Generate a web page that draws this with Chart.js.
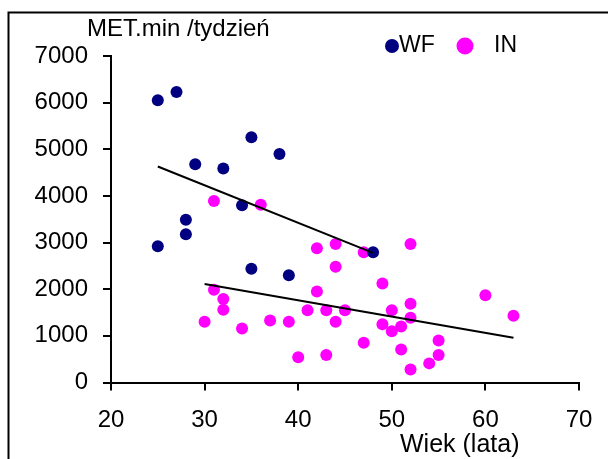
<!doctype html>
<html lang="pl">
<head>
  <meta charset="utf-8">
  <title>MET.min / tydzień</title>
  <style>
    html, body { margin: 0; padding: 0; background: #fff; }
    #wrap { width: 608px; height: 459px; }
  </style>
</head>
<body>
  <div id="wrap"><canvas id="myChart" width="608" height="459"></canvas></div>
  <script src="https://cdn.jsdelivr.net/npm/chart.js"></script>
  <script>
    // WF group
    const wfAge = [25, 27, 35, 38, 29, 32, 34, 28, 28, 25, 48, 35, 39];
    const wfMet = [6050, 6230, 5260, 4900, 4680, 4590, 3800, 3490, 3180, 2920, 2790, 2440, 2300];

    // IN group
    const inAge = [31, 36, 42, 44, 47, 52, 44, 49, 31, 42, 32, 32, 60, 52, 41, 43, 45, 50, 52, 63,
                   30, 37, 39, 44, 49, 51, 50, 34, 55, 47, 51, 40, 43, 55, 54, 52];
    const inMet = [3890, 3810, 2880, 2970, 2790, 2970, 2480, 2120, 1990, 1950, 1790, 1560, 1870, 1690,
                   1550, 1550, 1550, 1550, 1390, 1430, 1300, 1330, 1300, 1300, 1250, 1200, 1100, 1160,
                   900, 850, 710, 540, 590, 590, 410, 280];

    // trend lines (end points)
    const wfTrendAge = [25, 48];
    const wfTrendMet = [4630, 2780];
    const inTrendAge = [30, 63];
    const inTrendMet = [2110, 960];

    const xTicks = [20, 30, 40, 50, 60, 70];
    const yTicks = [0, 1000, 2000, 3000, 4000, 5000, 6000, 7000];

    const NAVY = '#000080';
    const MAGENTA = '#ff00ff';
    const FONT = '"Liberation Sans", Arial, sans-serif';

    const pts = (xs, ys) => xs.map((x, i) => ({ x: x, y: ys[i] }));

    const extras = {
      id: 'extras',
      beforeDraw(chart) {
        const ctx = chart.ctx;
        ctx.save();
        ctx.fillStyle = '#fff';
        ctx.fillRect(0, 0, chart.width, chart.height);
        ctx.restore();
      },
      afterDraw(chart) {
        const ctx = chart.ctx;
        ctx.save();
        // frame
        ctx.strokeStyle = '#000';
        ctx.lineWidth = 2;
        ctx.beginPath();
        ctx.moveTo(8.5, 460);
        ctx.lineTo(8.5, 12.5);
        ctx.lineTo(610, 12.5);
        ctx.stroke();

        ctx.fillStyle = '#000';
        ctx.textBaseline = 'alphabetic';
        ctx.textAlign = 'left';
        ctx.font = '24px ' + FONT;
        ctx.fillText('MET.min /tydzień', 87, 36);
        ctx.font = '25px ' + FONT;
        ctx.fillText('Wiek (lata)', 400, 452);

        // legend
        ctx.fillStyle = NAVY;
        ctx.beginPath(); ctx.arc(392, 46, 7, 0, Math.PI * 2); ctx.fill();
        ctx.fillStyle = MAGENTA;
        ctx.beginPath(); ctx.arc(465, 46, 8.5, 0, Math.PI * 2); ctx.fill();
        ctx.fillStyle = '#000';
        ctx.font = '23px ' + FONT;
        ctx.fillText('WF', 399, 52);
        ctx.fillText('IN', 494, 52);
        ctx.restore();
      }
    };

    const config = {
      type: 'scatter',
      data: {
        datasets: [
          {
            type: 'line', label: 'trend WF', data: pts(wfTrendAge, wfTrendMet),
            borderColor: '#000', borderWidth: 2, pointRadius: 0, fill: false, order: 0
          },
          {
            type: 'line', label: 'trend IN', data: pts(inTrendAge, inTrendMet),
            borderColor: '#000', borderWidth: 2, pointRadius: 0, fill: false, order: 0
          },
          {
            label: 'WF', data: pts(wfAge, wfMet),
            backgroundColor: NAVY, borderWidth: 0, pointRadius: 6, order: 1
          },
          {
            label: 'IN', data: pts(inAge, inMet),
            backgroundColor: MAGENTA, borderWidth: 0, pointRadius: 6, order: 2
          }
        ]
      },
      options: {
        responsive: false,
        animation: false,
        layout: { padding: { left: 0, right: 29, top: 56, bottom: 0 } },
        plugins: { legend: { display: false }, tooltip: { enabled: false } },
        scales: {
          x: {
            type: 'linear', min: 20, max: 70,
            afterBuildTicks: s => { s.ticks = xTicks.map(v => ({ value: v })); },
            afterFit: s => { s.height = 76.5; },
            grid: { display: true, drawOnChartArea: false, drawTicks: true, tickLength: 8, color: '#000', lineWidth: 2 },
            border: { display: true, color: '#000', width: 2 },
            ticks: { color: '#000', font: { family: FONT, size: 24 }, padding: 15, maxRotation: 0,
                     callback: v => String(v) }
          },
          y: {
            type: 'linear', min: 0, max: 7000,
            afterBuildTicks: s => { s.ticks = yTicks.map(v => ({ value: v })); },
            afterFit: s => { s.width = 111; },
            grid: { display: true, drawOnChartArea: false, drawTicks: true, tickLength: 8, color: '#000', lineWidth: 2 },
            border: { display: true, color: '#000', width: 2 },
            ticks: { color: '#000', font: { family: FONT, size: 24 }, padding: 15,
                     callback: v => String(v) }
          }
        }
      },
      plugins: [extras]
    };

    const myChart = new Chart(document.getElementById('myChart'), config);
  </script>
</body>
</html>
